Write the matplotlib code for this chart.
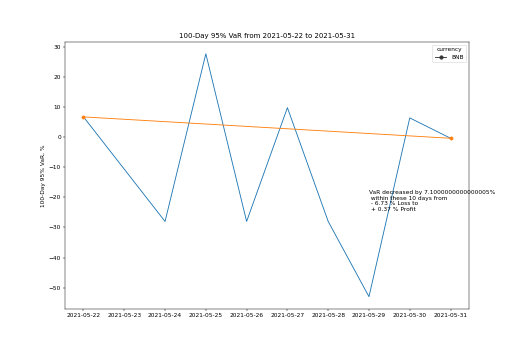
import matplotlib
matplotlib.use("Agg")
import matplotlib.pyplot as plt
import matplotlib.dates as mdates
from matplotlib.lines import Line2D
import pandas as pd

# VaR series for BNB (2021-05-23 missing in the source)
dates = ["2021-05-22", "2021-05-24", "2021-05-25", "2021-05-26", "2021-05-27",
         "2021-05-28", "2021-05-29", "2021-05-30", "2021-05-31"]
var_values = [6.73, -28.0, 27.7, -28.0, 9.8, -28.0, -53.0, 6.4, -0.37]

# start / end trend line
trend_dates = ["2021-05-22", "2021-05-31"]
trend_values = [6.73, -0.37]

currency = "BNB"
note = ("VaR decreased by 7.1000000000000005%\n within these 10 days from\n"
        " - 6.73 % Loss to\n + 0.37 % Profit")

DPI = 42
fig = plt.figure(figsize=(521 / DPI, 347 / DPI), dpi=DPI)
ax = fig.add_subplot(111)

x = pd.to_datetime(dates)
tx = pd.to_datetime(trend_dates)

ax.plot(x, var_values, color="#1f77b4")
ax.plot(tx, trend_values, color="#ff7f0e", marker="o", markersize=5.5)

ax.xaxis.set_major_locator(mdates.DayLocator())
ax.xaxis.set_major_formatter(mdates.DateFormatter("%Y-%m-%d"))

ax.set_title("100-Day 95% VaR from 2021-05-22 to 2021-05-31")
ax.set_ylabel("100-Day 95% VaR, %")

ax.text(pd.Timestamp("2021-05-29"), -17.5, note, va="top", ha="left")

handle = Line2D([], [], color="#333333", marker="o")
ax.legend([handle], [currency], title="currency", loc="upper right")

fig.savefig("out.png", dpi=DPI)
